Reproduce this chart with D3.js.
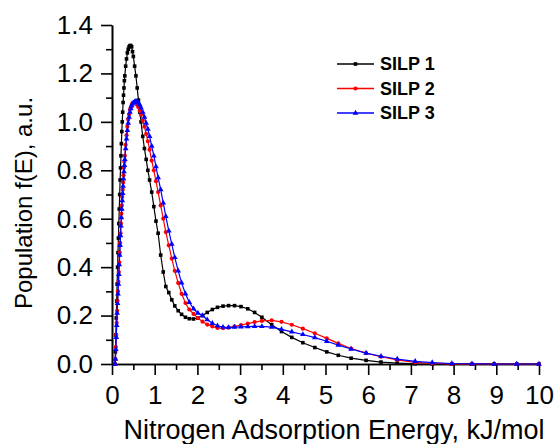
<!DOCTYPE html>
<html>
<head>
<meta charset="utf-8">
<script src="https://cdn.jsdelivr.net/npm/d3@7"></script>
<style>
  body { margin: 0; background: #fff; }
  svg text { font-family: "Liberation Sans", Arial, sans-serif; fill: #000; }
</style>
</head>
<body>
<div id="chart"></div>
<script>
// energy grid, kJ/mol (shared by all three samples)
var energy = [0.07, 0.08, 0.09, 0.10, 0.11, 0.12, 0.13, 0.14, 0.15, 0.16, 0.17, 0.18, 0.19, 0.20,
  0.21, 0.22, 0.23, 0.24, 0.25, 0.26, 0.27, 0.28, 0.29, 0.30, 0.32, 0.34, 0.36, 0.38, 0.40,
  0.42, 0.44, 0.46, 0.48, 0.50, 0.53, 0.56, 0.59, 0.62, 0.65, 0.68, 0.72, 0.76, 0.80, 0.84,
  0.88, 0.93, 0.98, 1.03, 1.08, 1.14, 1.20, 1.26, 1.33, 1.40, 1.47, 1.55, 1.63, 1.72, 1.81,
  1.91, 2.01, 2.12, 2.23, 2.35, 2.47, 2.60, 2.73, 2.87, 3.02, 3.18, 3.34, 3.51, 3.74, 3.97,
  4.21, 4.47, 4.75, 5.03, 5.30, 5.60, 5.95, 6.30, 6.68, 7.10, 7.50, 7.96, 8.43, 8.95, 9.48, 10.0];

var silp1 = [0, 0.05, 0.12, 0.19, 0.26, 0.33, 0.40, 0.46, 0.52, 0.58, 0.64, 0.70, 0.76, 0.81,
  0.86, 0.91, 0.96, 1.00, 1.04, 1.08, 1.11, 1.14, 1.17, 1.19, 1.23, 1.26, 1.285, 1.30, 1.31,
  1.315, 1.315, 1.31, 1.29, 1.27, 1.23, 1.19, 1.14, 1.09, 1.04, 1.00, 0.94, 0.89, 0.845, 0.80,
  0.76, 0.71, 0.65, 0.59, 0.54, 0.45, 0.38, 0.32, 0.295, 0.265, 0.24, 0.22, 0.205, 0.193, 0.187,
  0.186, 0.19, 0.20, 0.213, 0.225, 0.234, 0.239, 0.241, 0.241, 0.237, 0.228, 0.213, 0.193, 0.162, 0.134,
  0.11, 0.088, 0.068, 0.05, 0.036, 0.024, 0.015, 0.008, 0.004, 0.001, 0, 0, 0, 0, 0, 0];

var silp2 = [0, 0.02, 0.07, 0.12, 0.17, 0.22, 0.26, 0.30, 0.34, 0.38, 0.42, 0.46, 0.50, 0.54,
  0.58, 0.62, 0.655, 0.69, 0.72, 0.75, 0.78, 0.81, 0.835, 0.86, 0.905, 0.945, 0.98, 1.01, 1.03,
  1.05, 1.06, 1.07, 1.077, 1.08, 1.082, 1.08, 1.07, 1.06, 1.045, 1.03, 1.005, 0.98, 0.95, 0.92,
  0.885, 0.84, 0.80, 0.755, 0.71, 0.655, 0.60, 0.545, 0.49, 0.435, 0.385, 0.335, 0.29, 0.252, 0.225,
  0.207, 0.19, 0.175, 0.163, 0.155, 0.149, 0.148, 0.150, 0.155, 0.161, 0.167, 0.173, 0.178, 0.180, 0.174,
  0.162, 0.146, 0.127, 0.106, 0.085, 0.064, 0.045, 0.030, 0.017, 0.007, 0.002, 0, 0, 0, 0, 0];

var silp3 = [0, 0.02, 0.06, 0.11, 0.16, 0.21, 0.25, 0.29, 0.33, 0.37, 0.41, 0.45, 0.49, 0.53,
  0.57, 0.605, 0.64, 0.675, 0.705, 0.735, 0.765, 0.795, 0.82, 0.845, 0.89, 0.93, 0.965, 0.995, 1.02,
  1.04, 1.055, 1.066, 1.074, 1.079, 1.083, 1.085, 1.083, 1.078, 1.07, 1.058, 1.04, 1.02, 0.995, 0.97,
  0.94, 0.90, 0.86, 0.815, 0.77, 0.72, 0.665, 0.61, 0.55, 0.495, 0.44, 0.385, 0.335, 0.29, 0.255,
  0.228, 0.21, 0.20, 0.183, 0.168, 0.158, 0.152, 0.151, 0.152, 0.153, 0.154, 0.155, 0.155, 0.152, 0.143,
  0.133, 0.122, 0.109, 0.094, 0.078, 0.062, 0.045, 0.032, 0.020, 0.011, 0.006, 0.002, 0.001, 0, 0, 0];

var seriesNames = ["SILP 1", "SILP 2", "SILP 3"];
var seriesColors = ["#000000", "#ff0000", "#0000ff"];
var seriesShapes = ["square", "circle", "triangle"];

var xTicks = [0, 1, 2, 3, 4, 5, 6, 7, 8, 9, 10];
var xMinor = [0.5, 1.5, 2.5, 3.5, 4.5, 5.5, 6.5, 7.5, 8.5, 9.5];
var yTicks = [0, 0.2, 0.4, 0.6, 0.8, 1.0, 1.2, 1.4];
var yMinor = [0.1, 0.3, 0.5, 0.7, 0.9, 1.1, 1.3];

var W = 558, H = 444;
var svg = d3.select("#chart").append("svg")
    .attr("width", W).attr("height", H);

var x = d3.scaleLinear().domain([0, 10]).range([112, 539]);
var y = d3.scaleLinear().domain([0, 1.4]).range([364, 25]);

// axes
svg.append("g").attr("transform", "translate(0," + y(0) + ")")
    .call(d3.axisBottom(x).tickValues(xTicks).tickFormat(d3.format("d"))
      .tickSize(11).tickSizeOuter(0).tickPadding(11));
svg.append("g").attr("transform", "translate(0," + y(0) + ")")
    .call(d3.axisBottom(x).tickValues(xMinor).tickFormat("").tickSize(6).tickSizeOuter(0));

svg.append("g").attr("transform", "translate(" + x(0) + ",0)")
    .call(d3.axisLeft(y).tickValues(yTicks).tickFormat(d3.format(".1f"))
      .tickSize(11).tickSizeOuter(0).tickPadding(8));
svg.append("g").attr("transform", "translate(" + x(0) + ",0)")
    .call(d3.axisLeft(y).tickValues(yMinor).tickFormat("").tickSize(6).tickSizeOuter(0));

svg.selectAll(".domain, .tick line").attr("stroke", "#000").attr("stroke-width", 1.6);
svg.selectAll(".tick text").style("font-size", "26px").attr("fill", "#000");

// axis titles
svg.append("text")
    .attr("x", 334).attr("y", 439)
    .attr("text-anchor", "middle")
    .style("font-size", "27px")
    .text("Nitrogen Adsorption Energy, kJ/mol");

svg.append("text")
    .attr("transform", "translate(32,203) rotate(-90)")
    .attr("text-anchor", "middle")
    .style("font-size", "24px")
    .text("Population f(E), a.u.");

// curves
var allSeries = [silp1, silp2, silp3];
var line = d3.line()
    .x(function(d) { return x(d[0]); })
    .y(function(d) { return y(d[1]); });

function drawMarker(g, shape, color, px, py) {
  if (shape === "square") {
    g.append("rect").attr("x", px - 1.8).attr("y", py - 1.8)
      .attr("width", 3.6).attr("height", 3.6).attr("fill", color);
  } else if (shape === "circle") {
    g.append("circle").attr("cx", px).attr("cy", py).attr("r", 2.1).attr("fill", color);
  } else {
    g.append("path")
      .attr("d", d3.symbol().type(d3.symbolTriangle).size(14)())
      .attr("transform", "translate(" + px + "," + py + ")")
      .attr("fill", color);
  }
}

allSeries.forEach(function(vals, si) {
  var pts = energy.map(function(e, i) { return [e, vals[i]]; });
  var g = svg.append("g");
  g.append("path").datum(pts)
    .attr("d", line)
    .attr("fill", "none")
    .attr("stroke", seriesColors[si])
    .attr("stroke-width", 1.2);
  pts.forEach(function(p) {
    drawMarker(g, seriesShapes[si], seriesColors[si], x(p[0]), y(p[1]));
  });
});

// legend
var legend = svg.append("g");
seriesNames.forEach(function(name, i) {
  var ly = 64 + i * 24.5;
  legend.append("line")
    .attr("x1", 337).attr("x2", 374).attr("y1", ly).attr("y2", ly)
    .attr("stroke", seriesColors[i]).attr("stroke-width", 1.3);
  drawMarker(legend, seriesShapes[i], seriesColors[i], 355.5, ly);
  legend.append("text")
    .attr("x", 380).attr("y", ly + 6.3)
    .style("font-size", "18px").style("font-weight", "bold")
    .text(name);
});
</script>
</body>
</html>
